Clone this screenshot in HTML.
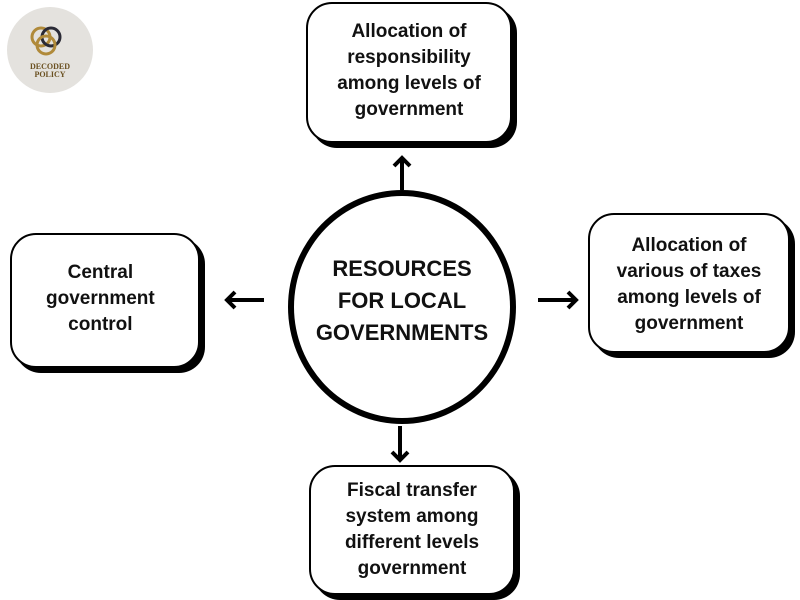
<!DOCTYPE html>
<html><head><style>
body{margin:0;width:800px;height:600px;background:#fff;position:relative;overflow:hidden;font-family:"Liberation Sans",sans-serif;font-weight:bold;color:#111}
.b{position:absolute;border:2px solid #000;border-radius:26px;background:#fff;box-shadow:5px 5px 0 #000;display:flex;align-items:center;justify-content:center;text-align:center;font-size:19px;line-height:26px;box-sizing:border-box}
</style></head><body>
<div style="position:absolute;left:7px;top:7px;width:86px;height:86px;border-radius:50%;background:#e4e2de"></div>
<svg style="position:absolute;left:7px;top:7px" width="86" height="86">
<circle cx="34" cy="30" r="9" fill="none" stroke="#b08a3a" stroke-width="3"/>
<circle cx="44" cy="30" r="9" fill="none" stroke="#2a2a35" stroke-width="3"/>
<circle cx="39" cy="38" r="9" fill="none" stroke="#b08a3a" stroke-width="3"/>
<text x="43" y="62" font-family="Liberation Serif" font-size="8" fill="#6a5020" text-anchor="middle">DECODED</text>
<text x="43" y="70" font-family="Liberation Serif" font-size="8" fill="#6a5020" text-anchor="middle">POLICY</text>
</svg>
<div class="b" style="left:306px;top:2px;width:206px;height:141px;padding-bottom:4px">Allocation of<br>responsibility<br>among levels of<br>government</div>
<div class="b" style="left:10px;top:233px;width:190px;height:135px;justify-content:flex-start;padding-left:34px;padding-bottom:4px">Central<br>government<br>control</div>
<div class="b" style="left:588px;top:213px;width:202px;height:140px;padding-top:4px">Allocation of<br>various of taxes<br>among levels of<br>government</div>
<div class="b" style="left:309px;top:465px;width:206px;height:130px">Fiscal transfer<br>system among<br>different levels<br>government</div>
<div style="position:absolute;left:288px;top:190px;width:228px;height:234px;border:6px solid #000;border-radius:50%;box-sizing:border-box;display:flex;align-items:center;justify-content:center;text-align:center;font-size:22px;line-height:32px;padding-bottom:12px">RESOURCES<br>FOR LOCAL<br>GOVERNMENTS</div>
<svg style="position:absolute;left:0;top:0" width="800" height="600" fill="none" stroke="#000" stroke-width="4">
<path d="M402 190V158M394 166l8-8 8 8"/>
<path d="M264 300H227M235 292l-8 8 8 8"/>
<path d="M538 300H576M568 292l8 8-8 8"/>
<path d="M400 426V460M392 452l8 8 8-8"/>
</svg>
</body></html>
